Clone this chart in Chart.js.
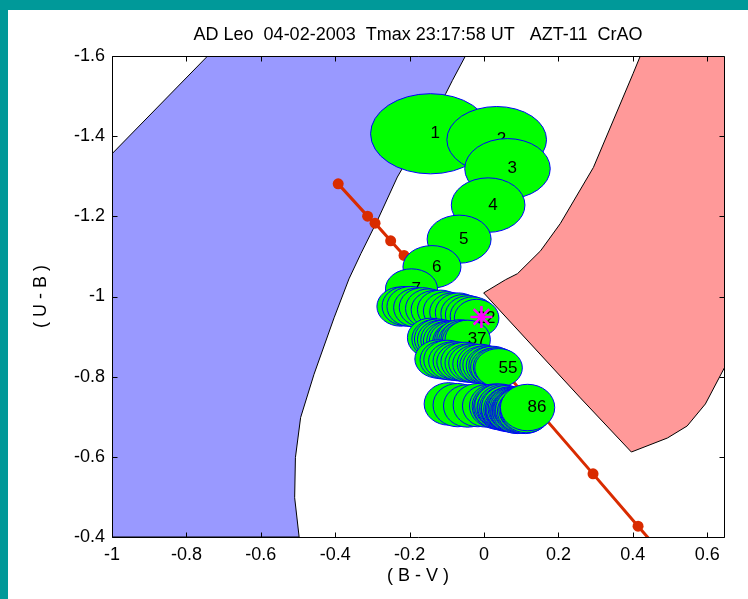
<!DOCTYPE html>
<html><head><meta charset="utf-8">
<script src="https://cdn.jsdelivr.net/npm/chart.js@4"></script>
<style>
html,body{margin:0;padding:0;background:#009999;width:748px;height:599px;overflow:hidden}
#wrap{position:absolute;left:8px;top:10px;width:740px;height:589px;background:#fff}
canvas{display:block}
</style></head><body>
<div id="wrap"><canvas id="c" width="740" height="589"></canvas></div>
<script>
const titleText = 'AD Leo  04-02-2003  Tmax 23:17:58 UT   AZT-11  CrAO';
const xTitle = '( B - V )';
const yTitle = '( U - B )';
const xTicks = [-1, -0.8, -0.6, -0.4, -0.2, 0, 0.2, 0.4, 0.6];
const xTickLabels = ['-1', '-0.8', '-0.6', '-0.4', '-0.2', '0', '0.2', '0.4', '0.6'];
const yTicks = [-1.6, -1.4, -1.2, -1, -0.8, -0.6, -0.4];
const yTickLabels = ['-1.6', '-1.4', '-1.2', '-1', '-0.8', '-0.6', '-0.4'];

// blue region (B - V, U - B)
const blueX = [-1.0, -0.743, -0.050, -0.085, -0.103, -0.233, -0.287, -0.331, -0.363, -0.403, -0.457, -0.493, -0.507, -0.509, -0.497, -1.0, -1.0];
const blueY = [-1.356, -1.6, -1.6, -1.539, -1.506, -1.298, -1.189, -1.107, -1.044, -0.947, -0.806, -0.698, -0.598, -0.498, -0.4, -0.4, -1.356];
// pink region
const pinkX = [0.420, 0.401, 0.294, 0.205, 0.152, 0.090, 0.058, -0.001, 0.259, 0.396, 0.493, 0.546, 0.595, 0.646, 0.70, 0.70, 0.420];
const pinkY = [-1.6, -1.557, -1.322, -1.182, -1.114, -1.057, -1.042, -1.009, -0.747, -0.612, -0.647, -0.677, -0.732, -0.822, -0.95, -1.6, -1.6];
// red line
const lineX = [-0.392, -0.313, -0.293, -0.251, -0.215, 0.293, 0.414, 0.470];
const lineY = [-1.281, -1.2005, -1.183, -1.139, -1.1025, -0.5575, -0.427, -0.367];
// star marker
const starX = [-0.007];
const starY = [-0.949];

// ellipses: centres and half-errors
const ellX = [
  -0.144, 0.034, 0.063, 0.011, -0.067, -0.140, -0.195,
  -0.224, -0.211, -0.197, -0.181, -0.165, -0.149, -0.133, -0.117, -0.101, -0.085, -0.069, -0.055, -0.042, -0.030, -0.020,
  -0.144, -0.133, -0.125, -0.117, -0.109, -0.101, -0.093, -0.085, -0.077, -0.071, -0.066, -0.060, -0.055, -0.050, -0.044,
  -0.122, -0.109, -0.098, -0.085, -0.074, -0.063, -0.052, -0.042, -0.031, -0.020, -0.009, -0.001, 0.007, 0.015, 0.023, 0.028, 0.034, 0.039,
  -0.095, -0.071, -0.044, -0.017, 0.007,
  0.028, 0.034, 0.039, 0.042, 0.047, 0.050, 0.055, 0.058, 0.060, 0.066, 0.069, 0.071, 0.074, 0.077, 0.082, 0.085, 0.087, 0.090, 0.093, 0.095, 0.098, 0.103, 0.106, 0.111, 0.114, 0.117
];
const ellY = [
  -1.406, -1.391, -1.319, -1.228, -1.143, -1.074, -1.019,
  -0.975, -0.976, -0.975, -0.972, -0.973, -0.970, -0.967, -0.967, -0.964, -0.961, -0.960, -0.957, -0.954, -0.951, -0.946,
  -0.897, -0.894, -0.894, -0.892, -0.892, -0.889, -0.889, -0.889, -0.887, -0.889, -0.892, -0.889, -0.892, -0.889, -0.892,
  -0.844, -0.842, -0.842, -0.839, -0.839, -0.837, -0.837, -0.834, -0.834, -0.832, -0.832, -0.829, -0.829, -0.827, -0.827, -0.824, -0.824, -0.822,
  -0.732, -0.729, -0.727, -0.729, -0.727,
  -0.727, -0.726, -0.724, -0.727, -0.722, -0.724, -0.722, -0.719, -0.722, -0.719, -0.717, -0.719, -0.717, -0.719, -0.717, -0.714, -0.717, -0.714, -0.717, -0.714, -0.717, -0.714, -0.717, -0.714, -0.716, -0.723
];
const ellErrX = [
  0.161, 0.134, 0.115, 0.099, 0.086, 0.078, 0.070,
  0.064, 0.063, 0.064, 0.062, 0.063, 0.062, 0.063, 0.062, 0.062, 0.061, 0.062, 0.061, 0.062, 0.061, 0.060,
  0.062, 0.061, 0.062, 0.062, 0.061, 0.062, 0.061, 0.062, 0.061, 0.062, 0.061, 0.062, 0.061, 0.062, 0.061,
  0.064, 0.063, 0.064, 0.064, 0.063, 0.064, 0.064, 0.063, 0.064, 0.064, 0.063, 0.064, 0.064, 0.063, 0.064, 0.064, 0.063, 0.064,
  0.066, 0.066, 0.065, 0.066, 0.065,
  0.067, 0.066, 0.067, 0.067, 0.066, 0.067, 0.067, 0.066, 0.067, 0.067, 0.066, 0.067, 0.067, 0.066, 0.067, 0.067, 0.066, 0.067, 0.067, 0.066, 0.067, 0.067, 0.066, 0.067, 0.068, 0.073
];
const ellErrY = [
  0.100, 0.083, 0.075, 0.068, 0.060, 0.053, 0.050,
  0.049, 0.049, 0.050, 0.049, 0.049, 0.049, 0.048, 0.049, 0.048, 0.048, 0.049, 0.048, 0.048, 0.048, 0.047,
  0.049, 0.049, 0.050, 0.049, 0.049, 0.049, 0.050, 0.049, 0.049, 0.049, 0.050, 0.049, 0.049, 0.049, 0.049,
  0.048, 0.048, 0.049, 0.048, 0.048, 0.048, 0.049, 0.048, 0.048, 0.048, 0.049, 0.048, 0.048, 0.048, 0.049, 0.048, 0.048, 0.048,
  0.053, 0.054, 0.053, 0.054, 0.053,
  0.055, 0.055, 0.056, 0.055, 0.055, 0.056, 0.055, 0.055, 0.056, 0.055, 0.055, 0.056, 0.055, 0.055, 0.056, 0.055, 0.055, 0.056, 0.055, 0.055, 0.056, 0.055, 0.055, 0.056, 0.056, 0.058
];
const ellLabels = ellX.map((_, i) => String(i + 1));

const FONT = '"Liberation Sans", Arial, Helvetica, sans-serif';
Chart.defaults.font.family = FONT;
Chart.defaults.color = '#000';

const toPts = (xs, ys) => xs.map((v, i) => ({x: v, y: ys[i]}));
const RED_INDEX = 2;

const ellipsePlugin = {
  id: 'ellipses',
  afterDatasetDraw(chart, args) {
    if (args.index !== RED_INDEX) return;
    const {ctx, chartArea: a, scales: {x, y}} = chart;
    ctx.save();
    ctx.beginPath();
    ctx.rect(a.left, a.top, a.right - a.left, a.bottom - a.top);
    ctx.clip();
    ctx.font = '17px ' + FONT;
    ctx.textAlign = 'left';
    ctx.textBaseline = 'middle';
    for (let i = 0; i < ellX.length; i++) {
      const cx = x.getPixelForValue(ellX[i]);
      const cy = y.getPixelForValue(ellY[i]);
      const rx = Math.abs(x.getPixelForValue(ellX[i] + ellErrX[i]) - cx);
      const ry = Math.abs(y.getPixelForValue(ellY[i] + ellErrY[i]) - cy);
      ctx.beginPath();
      ctx.ellipse(cx, cy, rx, ry, 0, 0, Math.PI * 2);
      ctx.fillStyle = '#00ff00';
      ctx.fill();
      ctx.lineWidth = 1;
      ctx.strokeStyle = '#0000ff';
      ctx.stroke();
      ctx.fillStyle = '#000';
      ctx.fillText(ellLabels[i], cx, cy);
    }
    ctx.restore();
  }
};

const framePlugin = {
  id: 'frame',
  afterDatasetsDraw(chart) {
    const {ctx, chartArea: a, scales: {x, y}} = chart;
    ctx.save();
    ctx.strokeStyle = '#000';
    ctx.lineWidth = 1;
    const L = Math.round(a.left) + 0.5, R = Math.round(a.right) + 0.5;
    const T = Math.round(a.top) + 0.5, B = Math.round(a.bottom) + 0.5;
    ctx.beginPath();
    ctx.rect(L, T, R - L, B - T);
    ctx.stroke();
    ctx.beginPath();
    xTicks.forEach(v => {
      const px = Math.round(x.getPixelForValue(v)) + 0.5;
      ctx.moveTo(px, B); ctx.lineTo(px, B - 5);
      ctx.moveTo(px, T); ctx.lineTo(px, T + 5);
    });
    yTicks.forEach(v => {
      const py = Math.round(y.getPixelForValue(v)) + 0.5;
      ctx.moveTo(L, py); ctx.lineTo(L + 5, py);
      ctx.moveTo(R, py); ctx.lineTo(R - 5, py);
    });
    ctx.stroke();
    ctx.restore();
  }
};

new Chart(document.getElementById('c'), {
  type: 'scatter',
  data: {
    datasets: [
      {
        data: toPts(blueX, blueY), showLine: true, fill: 'shape',
        backgroundColor: '#9999ff', borderColor: '#000', borderWidth: 1,
        pointRadius: 0, tension: 0, order: 10
      },
      {
        data: toPts(pinkX, pinkY), showLine: true, fill: 'shape',
        backgroundColor: '#ff9999', borderColor: '#000', borderWidth: 1,
        pointRadius: 0, tension: 0, order: 9
      },
      {
        data: toPts(lineX, lineY), showLine: true,
        borderColor: '#d92b00', borderWidth: 3,
        pointRadius: [5.5, 5.5, 5.5, 5.5, 5.5, 5.5, 5.5, 0],
        pointBackgroundColor: '#d92b00', pointBorderColor: '#d92b00', pointBorderWidth: 0,
        tension: 0, order: 5
      },
      {
        data: toPts(starX, starY), showLine: false,
        pointStyle: 'star', pointRadius: 11, borderColor: '#ff00ff', borderWidth: 2.5,
        backgroundColor: '#ff00ff', order: 1
      }
    ]
  },
  options: {
    responsive: false, animation: false, devicePixelRatio: 1,
    layout: {padding: {left: 0, right: 24, top: 0, bottom: 0}},
    plugins: {
      legend: {display: false}, tooltip: {enabled: false},
      title: {
        display: true, text: titleText, color: '#000', fullSize: false,
        font: {size: 18, weight: 'normal', family: FONT, lineHeight: 1.2},
        padding: {top: 14, bottom: 10.4}
      }
    },
    scales: {
      x: {
        type: 'linear', min: -1, max: 0.645,
        afterBuildTicks: s => { s.ticks = xTicks.map(v => ({value: v})); },
        afterFit: s => { s.height = 62; },
        grid: {display: false, drawTicks: false}, border: {display: false},
        ticks: {color: '#000', font: {size: 18}, padding: 7, maxRotation: 0, autoSkip: false,
                callback: (v, i) => xTickLabels[i]},
        title: {display: true, text: xTitle, color: '#000', font: {size: 18}, padding: {top: 0, bottom: 12}}
      },
      y: {
        type: 'linear', min: -1.6, max: -0.4, reverse: true,
        afterBuildTicks: s => { s.ticks = yTicks.map(v => ({value: v})); },
        afterFit: s => { s.width = 104; },
        grid: {display: false, drawTicks: false}, border: {display: false},
        ticks: {color: '#000', font: {size: 18}, padding: 7, autoSkip: false,
                callback: (v, i) => yTickLabels[i]},
        title: {display: true, text: yTitle, color: '#000', font: {size: 18}, padding: {top: 22, bottom: 0}}
      }
    }
  },
  plugins: [ellipsePlugin, framePlugin]
});
</script>
</body></html>
